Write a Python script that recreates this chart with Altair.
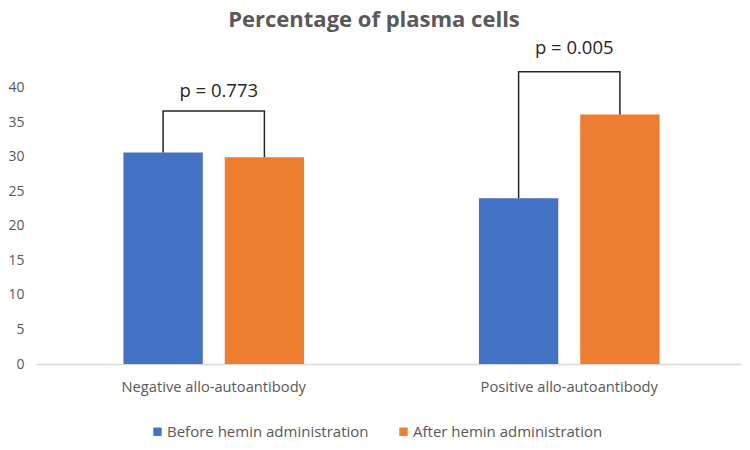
import altair as alt
import pandas as pd

groups = ["Negative allo-autoantibody", "Positive allo-autoantibody"]
series = ["Before hemin administration", "After hemin administration"]
before_vals = [30.6, 24.0]
after_vals = [29.9, 36.1]
bracket_levels = [36.6, 42.3]
p_labels = ["p = 0.773", "p = 0.005"]
p_label_y = [38.6, 44.8]
y_ticks = [0, 5, 10, 15, 20, 25, 30, 35, 40]
colors = ["#4472C4", "#ED7D31"]

FONT = "Open Sans"
GRAY = "#595959"

bars = pd.DataFrame({
    "group": groups * 2,
    "series": [series[0]] * 2 + [series[1]] * 2,
    "value": before_vals + after_vals,
})

br_rows = []
for g, b, a, lvl in zip(groups, before_vals, after_vals, bracket_levels):
    br_rows += [
        {"group": g, "series": series[0], "y": b, "o": 0},
        {"group": g, "series": series[0], "y": lvl, "o": 1},
        {"group": g, "series": series[1], "y": lvl, "o": 2},
        {"group": g, "series": series[1], "y": a, "o": 3},
    ]
brackets = pd.DataFrame(br_rows)
plabels = pd.DataFrame({"group": groups, "label": p_labels, "y": p_label_y})

xscale = alt.Scale(domain=groups, range=[0, 711], paddingInner=0, paddingOuter=0)
xoff_scale = alt.Scale(domain=series, paddingInner=0.217, paddingOuter=0.863)
yscale = alt.Scale(domain=[0, 45], nice=False)

x_axis = alt.Axis(labelAngle=0, ticks=False, domainColor="#D9D9D9",
                  domainWidth=1.5, labelColor=GRAY, labelFontSize=14.7,
                  labelFont=FONT, labelPadding=15, labelOverlap=False,
                  labelLimit=400, grid=False)
y_axis = alt.Axis(values=y_ticks, grid=False,
                  domain=False, ticks=False, labelColor=GRAY,
                  labelFontSize=14, labelFont=FONT, labelPadding=12,
                  labelOverlap=False)


def xenc():
    return alt.X("group:N", scale=xscale, sort=groups, title=None, axis=x_axis)


def yenc(field):
    return alt.Y(field, scale=yscale, title=None, axis=y_axis)


bar_layer = alt.Chart(bars).mark_bar().encode(
    x=xenc(),
    xOffset=alt.XOffset("series:N", scale=xoff_scale, sort=series),
    y=yenc("value:Q"),
    color=alt.Color("series:N", sort=series,
                    scale=alt.Scale(domain=series, range=colors),
                    legend=alt.Legend(title=None, orient="none", direction="horizontal",
                                      legendX=114, legendY=371, symbolType="square",
                                      symbolSize=70, symbolStrokeWidth=0,
                                      labelFont=FONT, labelFontSize=15,
                                      labelColor=GRAY, labelOffset=2,
                                      labelLimit=400, columnPadding=27)),
)

line_layer = alt.Chart(brackets).mark_line(color="#262626", strokeWidth=1.5).encode(
    x=xenc(),
    xOffset=alt.XOffset("series:N", scale=xoff_scale, sort=series),
    y=yenc("y:Q"),
    detail="group:N",
    order="o:Q",
)

text_layer = alt.Chart(plabels).mark_text(
    font=FONT, fontSize=18.5, color="#262626", baseline="alphabetic", dx=5
).encode(
    x=xenc(),
    y=yenc("y:Q"),
    text="label:N",
)

chart = alt.layer(bar_layer, line_layer, text_layer).properties(
    width=706,
    height=311,
    autosize=alt.AutoSizeParams(type="none"),
    padding={"left": 28, "top": 45, "right": 0, "bottom": 78},
    title=alt.TitleParams("Percentage of plasma cells", font=FONT, fontSize=22,
                          fontWeight="bold", color=GRAY, anchor="middle",
                          dx=-15, offset=7),
).configure_view(stroke=None)

chart.save("out.html", embed_options={"renderer": "svg", "actions": False})
